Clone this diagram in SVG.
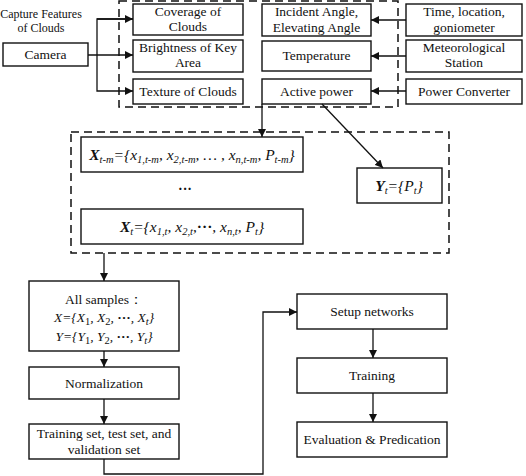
<svg xmlns="http://www.w3.org/2000/svg" width="526" height="476" viewBox="0 0 526 476" font-family="Liberation Serif, Times New Roman, serif">
<style>
.b{fill:#fff;stroke:#111;stroke-width:1.4}
.d{fill:none;stroke:#111;stroke-width:1.5;stroke-dasharray:8 5}
.c{fill:none;stroke:#111;stroke-width:1.3}
text{font-family:'Liberation Serif',serif;fill:#111;font-size:13.5px;text-anchor:middle}
.eq{font-style:italic;font-size:15.5px}
.s{font-size:10.5px}
</style>
<defs>
<marker id="a" viewBox="0 0 10 10" refX="10" refY="5" markerWidth="8" markerHeight="8" markerUnits="userSpaceOnUse" orient="auto"><path d="M0,0L10,5L0,10z" fill="#111"/></marker>
</defs>
<rect class="d" x="119" y="1" width="279" height="106"/>
<rect class="d" x="71" y="132" width="378" height="121"/>
<text x="41" y="18" style="font-size:12px">Capture Features</text>
<text x="41" y="32" style="font-size:12px">of Clouds</text>
<g id="camera"><rect class="b" x="3" y="43" width="85" height="23"/><text x="45.5" y="59">Camera</text></g>
<g id="coverage"><rect class="b" x="133" y="4" width="110" height="31"/><text x="188" y="16">Coverage of</text><text x="188" y="31">Clouds</text></g>
<g id="brightness"><rect class="b" x="133" y="40" width="110" height="32"/><text x="188" y="52">Brightness of Key</text><text x="188" y="67">Area</text></g>
<g id="texture"><rect class="b" x="133" y="79" width="110" height="25"/><text x="188" y="96">Texture of Clouds</text></g>
<g id="incident"><rect class="b" x="262" y="4" width="109" height="32"/><text x="316.5" y="16">Incident Angle,</text><text x="316.5" y="32">Elevating Angle</text></g>
<g id="temperature"><rect class="b" x="262" y="41" width="109" height="30"/><text x="316.5" y="60">Temperature</text></g>
<g id="active"><rect class="b" x="262" y="79" width="109" height="25"/><text x="316.5" y="96">Active power</text></g>
<g id="time"><rect class="b" x="406" y="4" width="116" height="32"/><text x="464" y="16">Time, location,</text><text x="464" y="32">goniometer</text></g>
<g id="meteo"><rect class="b" x="406" y="40" width="116" height="32"/><text x="464" y="52">Meteorological</text><text x="464" y="67">Station</text></g>
<g id="power"><rect class="b" x="406" y="79" width="116" height="25"/><text x="464" y="96">Power Converter</text></g>
<g id="xtm"><rect class="b" x="81" y="137" width="222" height="35"/>
<text x="192" y="160" class="eq"><tspan font-weight="bold">X</tspan><tspan class="s" dy="3">t-m</tspan><tspan dy="-3">={x</tspan><tspan class="s" dy="3">1,t-m</tspan><tspan dy="-3">, x</tspan><tspan class="s" dy="3">2,t-m</tspan><tspan dy="-3">, … , x</tspan><tspan class="s" dy="3">n,t-m</tspan><tspan dy="-3">, P</tspan><tspan class="s" dy="3">t-m</tspan><tspan dy="-3">}</tspan></text></g>
<text x="185" y="194" style="font-size:14px;font-weight:bold">···</text>
<g id="xt"><rect class="b" x="81" y="209" width="222" height="35"/>
<text x="192" y="232" class="eq"><tspan font-weight="bold">X</tspan><tspan class="s" dy="3">t</tspan><tspan dy="-3">={x</tspan><tspan class="s" dy="3">1,t</tspan><tspan dy="-3">, x</tspan><tspan class="s" dy="3">2,t</tspan><tspan dy="-3">,</tspan><tspan font-style="normal" font-weight="bold">···</tspan><tspan>, x</tspan><tspan class="s" dy="3">n,t</tspan><tspan dy="-3">, P</tspan><tspan class="s" dy="3">t</tspan><tspan dy="-3">}</tspan></text></g>
<g id="yt"><rect class="b" x="357" y="168" width="85" height="35"/>
<text x="399" y="191" class="eq"><tspan font-weight="bold">Y</tspan><tspan class="s" dy="3">t</tspan><tspan dy="-3">={P</tspan><tspan class="s" dy="3">t</tspan><tspan dy="-3">}</tspan></text></g>
<g id="samples"><rect class="b" x="29" y="281" width="150" height="70"/>
<text x="104" y="304">All samples：</text>
<text x="104" y="322" class="eq" style="font-size:13.5px">X={X<tspan class="s" dy="3" font-style="normal">1</tspan><tspan dy="-3">, X</tspan><tspan class="s" dy="3" font-style="normal">2</tspan><tspan dy="-3">, </tspan><tspan font-style="normal" font-weight="bold">···</tspan>, X<tspan class="s" dy="3">t</tspan><tspan dy="-3">}</tspan></text>
<text x="104" y="341" class="eq" style="font-size:13.5px">Y={Y<tspan class="s" dy="3" font-style="normal">1</tspan><tspan dy="-3">, Y</tspan><tspan class="s" dy="3" font-style="normal">2</tspan><tspan dy="-3">, </tspan><tspan font-style="normal" font-weight="bold">···</tspan>, Y<tspan class="s" dy="3">t</tspan><tspan dy="-3">}</tspan></text></g>
<g id="norm"><rect class="b" x="29" y="367" width="150" height="32"/><text x="104" y="388">Normalization</text></g>
<g id="sets"><rect class="b" x="29" y="424" width="150" height="35"/><text x="104" y="438">Training set, test set, and</text><text x="104" y="454">validation set</text></g>
<g id="setup"><rect class="b" x="297" y="294" width="150" height="35"/><text x="372" y="316">Setup networks</text></g>
<g id="training"><rect class="b" x="297" y="358" width="150" height="35"/><text x="372" y="380">Training</text></g>
<g id="eval"><rect class="b" x="297" y="422" width="150" height="35"/><text x="372" y="444">Evaluation &amp; Predication</text></g>
<g id="connectors" class="c">
<path class="c" d="M88,55H133" marker-end="url(#a)"/>
<path class="c" d="M133,19H97V91H133" marker-end="url(#a)"/>
<path class="c" d="M97,19H133" marker-end="url(#a)"/>
<path class="c" d="M406,20H371" marker-end="url(#a)"/>
<path class="c" d="M406,56H371" marker-end="url(#a)"/>
<path class="c" d="M406,91H371" marker-end="url(#a)"/>
<path class="c" d="M262,104V137" marker-end="url(#a)"/>
<path class="c" d="M322,104L383,168" marker-end="url(#a)"/>
<path class="c" d="M104,253V281" marker-end="url(#a)"/>
<path class="c" d="M104,351V367" marker-end="url(#a)"/>
<path class="c" d="M104,399V424" marker-end="url(#a)"/>
<path class="c" d="M104,459V474H263V312H297" marker-end="url(#a)"/>
<path class="c" d="M373,329V358" marker-end="url(#a)"/>
<path class="c" d="M373,393V422" marker-end="url(#a)"/>
</g>
</svg>
